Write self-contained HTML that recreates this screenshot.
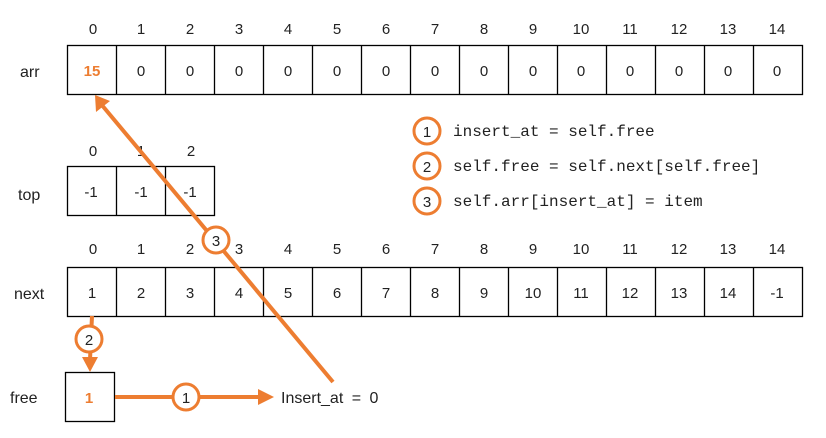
<!DOCTYPE html>
<html><head><meta charset="utf-8"><style>
html,body{margin:0;padding:0;background:#fff;}
svg{display:block;}
text{font-family:"Liberation Sans",sans-serif;font-size:15px;fill:#222;}
.l{font-size:16px;}
.m{font-family:"Liberation Mono",monospace;font-size:16px;}
</style></head><body>
<svg width="826" height="438" viewBox="0 0 826 438" xmlns="http://www.w3.org/2000/svg">
<g stroke="#000" stroke-width="1.3" fill="none">
<rect x="67.5" y="45.5" width="735" height="49"/>
<path d="M116.5 45.5v49M165.5 45.5v49M214.5 45.5v49M263.5 45.5v49M312.5 45.5v49M361.5 45.5v49M410.5 45.5v49M459.5 45.5v49M508.5 45.5v49M557.5 45.5v49M606.5 45.5v49M655.5 45.5v49M704.5 45.5v49M753.5 45.5v49"/>
<rect x="67.5" y="166.5" width="147" height="49"/>
<path d="M116.5 166.5v49M165.5 166.5v49"/>
<rect x="67.5" y="267.5" width="735" height="49"/>
<path d="M116.5 267.5v49M165.5 267.5v49M214.5 267.5v49M263.5 267.5v49M312.5 267.5v49M361.5 267.5v49M410.5 267.5v49M459.5 267.5v49M508.5 267.5v49M557.5 267.5v49M606.5 267.5v49M655.5 267.5v49M704.5 267.5v49M753.5 267.5v49"/>
<rect x="65.5" y="372.5" width="49" height="49"/>
</g>
<g text-anchor="middle">
<text x="93" y="34">0</text><text x="141" y="34">1</text><text x="190" y="34">2</text><text x="239" y="34">3</text><text x="288" y="34">4</text><text x="337" y="34">5</text><text x="386" y="34">6</text><text x="435" y="34">7</text><text x="484" y="34">8</text><text x="533" y="34">9</text><text x="581" y="34">10</text><text x="630" y="34">11</text><text x="679" y="34">12</text><text x="728" y="34">13</text><text x="777" y="34">14</text>
<text x="92" y="76" style="fill:#ed7d31;font-weight:bold">15</text><text x="141" y="76">0</text><text x="190" y="76">0</text><text x="239" y="76">0</text><text x="288" y="76">0</text><text x="337" y="76">0</text><text x="386" y="76">0</text><text x="435" y="76">0</text><text x="484" y="76">0</text><text x="533" y="76">0</text><text x="581" y="76">0</text><text x="630" y="76">0</text><text x="679" y="76">0</text><text x="728" y="76">0</text><text x="777" y="76">0</text>
<text x="93" y="156">0</text><text x="141" y="156">1</text><text x="191" y="156">2</text>
<text x="91" y="197">-1</text><text x="141" y="197">-1</text><text x="190" y="197">-1</text>
<text x="93" y="254">0</text><text x="141" y="254">1</text><text x="190" y="254">2</text><text x="239" y="254">3</text><text x="288" y="254">4</text><text x="337" y="254">5</text><text x="386" y="254">6</text><text x="435" y="254">7</text><text x="484" y="254">8</text><text x="533" y="254">9</text><text x="581" y="254">10</text><text x="630" y="254">11</text><text x="679" y="254">12</text><text x="728" y="254">13</text><text x="777" y="254">14</text>
<text x="92" y="298">1</text><text x="141" y="298">2</text><text x="190" y="298">3</text><text x="239" y="298">4</text><text x="288" y="298">5</text><text x="337" y="298">6</text><text x="386" y="298">7</text><text x="435" y="298">8</text><text x="484" y="298">9</text><text x="533" y="298">10</text><text x="581" y="298">11</text><text x="630" y="298">12</text><text x="679" y="298">13</text><text x="728" y="298">14</text><text x="777" y="298">-1</text>
<text x="89" y="403" style="fill:#ed7d31;font-weight:bold">1</text>
</g>
<text class="l" x="20" y="77">arr</text>
<text class="l" x="18" y="200">top</text>
<text class="l" x="14" y="299">next</text>
<text class="l" x="10" y="403">free</text>
<text class="l" x="281" y="403" style="word-spacing:4px">Insert_at = 0</text>
<g stroke="#ed7d31" stroke-width="4" fill="none">
<line x1="333" y1="382" x2="101" y2="104"/>
<line x1="92" y1="316" x2="90" y2="360"/>
<line x1="115" y1="397" x2="262" y2="397"/>
</g>
<g fill="#ed7d31">
<polygon points="95,95 96,112 110,101"/>
<polygon points="82,357 98,357 90,372"/>
<polygon points="258,389 258,405 274,397"/>
</g>
<g stroke="#ed7d31" stroke-width="3" fill="#fff">
<circle cx="216" cy="240" r="13"/>
<circle cx="89" cy="339" r="13"/>
<circle cx="186" cy="397" r="13"/>
<circle cx="427" cy="131" r="13"/>
<circle cx="427" cy="166" r="13"/>
<circle cx="427" cy="201" r="13"/>
</g>
<g text-anchor="middle">
<text x="216" y="246">3</text><text x="89" y="345">2</text><text x="186" y="403">1</text>
<text x="427" y="137">1</text><text x="427" y="172">2</text><text x="427" y="207">3</text>
</g>
<text class="m" x="453" y="136">insert_at = self.free</text>
<text class="m" x="453" y="171">self.free = self.next[self.free]</text>
<text class="m" x="453" y="206">self.arr[insert_at] = item</text>
</svg>
</body></html>
